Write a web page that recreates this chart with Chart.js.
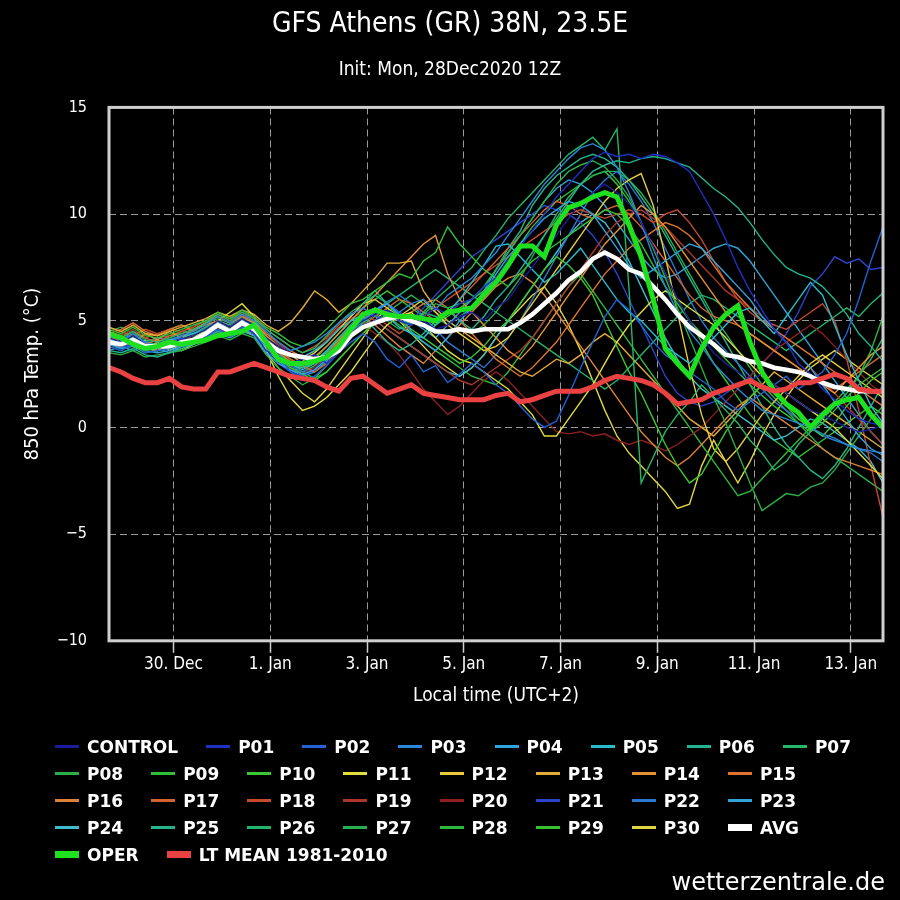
<!DOCTYPE html>
<html>
<head>
<meta charset="utf-8">
<script src="https://cdn.jsdelivr.net/npm/chart.js@4.4.1/dist/chart.umd.min.js"></script>
<style>
    html, body { margin: 0; padding: 0; background: #000; }
    #wrap { position: relative; width: 900px; height: 900px; }
    #legend {
        position: absolute; left: 55px; top: 733px; width: 830px;
        display: flex; flex-wrap: wrap;
        font: bold 17px "DejaVu Sans", sans-serif; color: #fff;
    }
    .item { display: flex; align-items: center; height: 27px; margin-right: 28px; }
    .item .line { display: inline-block; width: 24px; margin-right: 8px; }
    #credit {
        position: absolute; right: 15px; top: 868px;
        font: 24px "DejaVu Sans", sans-serif; color: #fff;
    }
</style>
</head>
<body>
<div id="wrap">
    <canvas id="ensChart" width="900" height="900"></canvas>
    <div id="legend"></div>
    <div id="credit">wetterzentrale.de</div>
</div>
<script>
// 850 hPa temperature, one value every 6 hours from init (0 .. 384 h)
const CONTROL = [4.2,4.0,4.3,3.9,3.7,3.9,4.1,4.3,4.6,5.0,4.7,5.1,4.8, 4.2,3.8,3.5,3.2,3.0,3.4,3.9,4.6, 5.0,5.3,5.5,5.2,4.9,5.0,4.6,4.8,5.2,5.4,5.0,5.6,6.0, 6.8,7.5,8.3,9.0,9.8,10.5,11.0,11.4,11.0,10.5,9.6,8.5,7.2, 6.0,5.0,4.2,3.5,3.0,2.6,2.2,2.5,2.0,1.6,1.2,0.8,0.6,0.3,0.0,-0.2,-0.1,0.1];
const P01 = [4.0,3.8,4.0,3.6,3.9,3.8,4.2,4.0,4.5,4.7,4.6,4.8,4.4, 3.6,3.3,3.0,3.2,3.4,3.0,3.5,4.2, 4.8,5.0,5.4,5.0,4.8,5.2,5.6,5.3,5.8,6.0,6.6,7.0,7.8, 8.5,9.2,10.0,10.8,11.4,12.0,12.6,12.9,12.7,12.8,12.6,12.8,12.7, 12.4,12.0,11.0,10.0,8.8,7.5,6.4,5.5,4.6,4.0,3.0,2.5,1.8,1.3,0.8,0.4,0.2,0.1];
const P02 = [3.8,3.6,3.9,3.5,3.6,3.7,3.9,4.0,4.2,4.6,4.3,4.7,4.5, 3.9,3.4,2.6,2.2,2.4,2.9,3.5,4.0, 4.4,4.0,3.2,2.8,3.4,2.6,2.9,2.1,2.5,3.0,2.6,2.0,1.6, 1.0,0.4,0.0,0.3,1.5,2.8,4.0,5.2,6.0,5.5,4.8,4.0,3.4, 3.0,2.6,2.2,1.8,1.2,0.8,1.2,1.6,2.0,2.4,1.8,2.2,2.6,3.4,4.4,6.0,7.8,9.4];
const P03 = [4.3,4.1,4.4,4.0,3.8,4.0,4.3,4.5,4.8,5.2,4.9,5.3,5.0, 4.5,4.0,3.6,3.8,4.0,4.4,4.9,5.3, 5.6,5.2,5.0,5.4,5.8,6.0,5.5,6.2,6.6,7.0,7.6,8.2,9.0, 9.8,10.6,11.4,12.0,12.6,13.1,13.3,13.0,12.2,11.0,9.6,8.0,6.6, 5.4,4.5,3.8,3.0,2.4,1.8,1.3,0.8,0.6,0.4,0.2,0.0,-0.3,-0.5,-0.8,-1.0,-1.1,-1.2];
const P04 = [3.9,3.7,3.8,3.6,3.5,3.6,3.8,3.9,4.1,4.4,4.2,4.5,4.3, 3.5,3.0,2.7,2.5,2.7,3.2,3.8,4.5, 5.0,5.5,5.8,5.3,4.5,4.0,3.6,4.2,5.0,5.6,6.3,7.2,8.0, 8.6,9.2,9.8,10.2,10.6,10.4,10.0,9.2,8.4,7.6,7.0,7.4,7.8, 8.2,8.6,8.4,7.8,7.2,6.6,6.0,5.2,4.6,4.0,3.4,2.8,2.0,1.2,0.4,-0.4,-1.0,-1.3];
const P05 = [4.1,4.0,4.2,3.8,3.9,4.1,4.2,4.4,4.6,4.9,4.6,5.0,4.7, 4.0,3.7,3.4,3.3,3.6,4.0,4.6,5.0, 5.3,5.6,5.2,4.7,4.4,4.2,4.8,5.4,6.0,6.8,7.6,8.5,8.6, 8.0,7.4,6.8,7.2,7.8,8.4,7.6,6.8,6.0,5.4,5.0,4.4,3.8, 3.4,3.0,3.6,4.2,4.8,5.4,5.6,5.0,4.4,5.2,6.0,6.8,6.2,4.8,3.4,2.2,1.0,0.2];
const P06 = [3.6,3.5,3.7,3.4,3.3,3.5,3.7,3.9,4.2,4.5,4.3,4.6,4.4, 3.8,3.4,3.0,2.8,3.0,3.5,4.2,4.8, 5.2,4.6,4.0,3.6,3.9,4.4,5.0,5.5,5.0,4.6,5.2,6.0,6.6, 7.4,8.2,9.0,9.8,10.6,11.4,12.0,12.3,12.5,12.4,12.6,12.7,12.6, 12.4,12.2,11.7,11.2,10.8,10.3,9.6,8.8,8.1,7.5,7.2,7.0,6.6,6.0,5.3,4.4,3.8,3.1];
const P07 = [4.4,4.2,4.5,4.1,4.0,4.2,4.4,4.6,4.9,5.3,5.0,5.4,5.1, 4.6,4.2,3.8,3.5,3.7,4.3,4.9,5.4, 5.8,6.2,5.8,5.2,4.8,5.4,6.0,6.5,7.0,7.5,8.3,9.0,9.8, 10.4,11.0,11.6,12.2,12.8,13.2,13.6,13.0,14.0,6.5,-2.6,-1.4,-0.2, 0.6,1.2,2.0,1.4,0.8,0.2,-0.6,-1.2,-2.0,-1.6,-0.8,-0.2,0.4,1.0,1.6,2.4,3.2,4.2];
const P08 = [3.5,3.4,3.6,3.3,3.4,3.5,3.6,3.8,4.0,4.3,4.1,4.4,4.2, 3.4,2.8,2.4,2.0,2.3,2.9,3.6,4.3, 4.9,5.3,5.0,4.6,4.9,5.3,5.8,5.6,5.8,6.0,6.6,7.4,8.2, 9.0,9.8,10.6,11.4,12.0,12.3,12.5,12.2,11.6,10.8,9.6,8.4,7.0, 5.6,4.2,2.8,1.4,0.2,-1.2,-2.6,-3.9,-3.5,-3.1,-3.2,-2.8,-2.6,-2.0,-1.2,-0.4,0.4,1.0];
const P09 = [4.6,4.4,4.7,4.3,4.2,4.4,4.6,4.8,5.0,5.4,5.1,5.5,5.2, 4.7,4.4,4.0,3.8,4.1,4.6,5.2,5.8, 6.0,6.4,6.8,7.2,7.0,7.8,8.2,9.4,8.6,8.0,7.4,7.0,6.6, 7.2,7.8,8.2,8.6,9.0,9.4,9.8,10.2,10.0,9.4,8.6,7.6,6.6, 5.8,5.0,4.4,3.8,3.2,2.6,2.0,1.5,1.0,0.6,0.2,-0.2,0.2,0.8,1.4,2.0,2.4,2.8];
const P10 = [4.0,3.9,4.1,3.7,3.8,3.9,4.0,4.2,4.5,4.8,4.5,4.9,4.6, 3.9,3.2,2.8,2.5,2.2,2.6,3.2,3.8, 4.4,4.9,5.3,5.0,4.6,4.2,3.8,3.4,3.0,3.3,3.8,4.5,5.0, 5.8,6.6,7.4,8.0,7.6,7.0,6.2,5.0,3.8,2.6,1.6,0.4,-0.8, -1.8,-2.6,-2.2,-1.2,-0.2,0.6,1.4,2.0,1.6,1.0,0.4,0.0,-0.4,0.2,1.0,1.6,2.2,2.6];
const P11 = [4.5,4.2,3.8,3.6,4.0,3.6,3.9,4.2,4.6,5.0,5.4,5.8,5.2, 3.6,2.4,1.4,0.8,1.0,1.4,2.0,2.6, 3.4,4.2,4.8,5.2,5.4,4.8,4.2,3.6,3.2,3.0,2.6,2.2,1.8, 1.2,0.6,-0.4,-0.4,0.4,1.2,2.0,3.0,4.0,4.8,5.4,6.0,6.4, 6.0,5.6,5.2,4.8,4.2,3.6,3.0,2.4,2.0,1.6,1.2,0.8,0.4,0.0,-0.6,-1.2,-1.8,-2.4];
const P12 = [3.9,3.8,4.0,3.7,3.6,3.8,4.0,4.1,4.4,4.7,4.5,4.8,4.5, 3.8,3.3,2.9,3.1,3.5,4.0,4.6,5.2, 5.8,6.0,5.6,5.2,5.6,6.0,5.4,4.8,4.4,4.0,3.6,3.8,4.2, 5.0,5.8,6.6,7.4,8.2,9.0,9.8,10.6,11.2,11.6,11.9,10.4,8.0, 5.4,2.8,0.6,-1.0,-1.6,-1.0,-0.2,0.6,1.2,1.8,2.4,3.0,3.4,3.0,2.6,2.2,1.8,1.4];
const P13 = [4.7,4.5,4.8,4.4,4.3,4.5,4.7,4.9,5.1,5.4,5.2,5.5,5.3, 4.8,4.5,4.9,5.6,6.4,6.0,5.4,5.8, 6.4,7.0,7.7,7.7,7.8,6.4,5.6,5.0,4.6,4.2,3.8,3.4,3.0, 2.6,2.4,2.8,3.2,3.0,3.4,4.0,4.4,4.0,3.4,2.8,2.2,1.6, 1.0,0.4,0.0,-0.4,0.2,0.8,1.4,2.0,2.6,2.2,1.8,1.4,1.0,0.6,0.2,-0.2,-0.6,-1.0];
const P14 = [4.1,4.3,4.0,4.4,4.1,4.5,4.2,4.6,4.8,5.0,4.7,5.1,4.9, 4.3,3.8,3.4,3.0,3.3,3.8,4.4,5.0, 5.6,6.2,6.8,7.4,8.0,8.6,9.0,7.2,6.0,5.4,4.8,4.2,3.6, 3.2,3.8,4.6,5.4,6.2,7.0,7.8,8.6,9.2,9.8,10.4,10.0,9.4, 8.6,7.8,7.0,6.2,5.4,4.8,4.4,4.0,3.6,3.2,2.8,2.4,2.0,1.6,2.2,2.8,3.4,3.8];
const P15 = [4.4,4.6,4.9,4.5,4.3,4.6,4.8,4.5,4.9,5.2,4.9,5.2,5.0, 4.4,4.0,3.6,3.3,3.0,3.4,4.0,4.6, 5.2,5.6,5.4,5.0,5.4,5.8,6.0,5.6,5.0,4.4,3.8,3.2,2.8, 2.4,2.8,3.4,4.0,4.8,5.6,6.4,7.2,7.8,8.4,8.8,9.2,9.6, 9.4,9.0,8.4,7.6,6.8,6.2,5.6,5.0,4.6,4.2,3.8,3.4,3.0,2.6,2.2,1.8,1.4,1.0];
const P16 = [4.2,4.0,4.2,3.9,4.1,4.0,4.1,4.3,4.5,4.9,4.6,5.0,4.7, 4.0,3.5,3.1,2.8,3.0,3.5,4.1,4.7, 5.2,4.8,4.3,3.8,3.4,3.0,3.6,4.2,4.8,5.4,6.0,6.6,7.0, 7.2,6.8,6.2,5.4,4.6,3.8,3.0,2.2,1.4,0.6,-0.2,-0.8,-1.4, -1.8,-1.4,-0.8,-0.2,0.4,1.0,1.4,1.0,0.6,0.2,-0.2,-0.6,-1.0,-1.4,-1.6,-1.8,-2.0,-2.2];
const P17 = [4.0,4.2,4.5,4.2,4.0,4.3,4.4,4.6,4.9,5.2,4.9,5.3,5.0, 4.2,3.6,3.2,2.9,2.6,3.0,3.6,4.2, 4.8,5.2,5.6,6.0,5.8,5.4,5.0,5.4,6.0,6.6,7.2,7.8,8.4, 9.0,9.6,10.2,10.6,10.4,10.0,9.8,10.2,10.4,10.0,9.4,8.6,7.8, 7.0,6.2,5.6,5.2,5.0,4.8,4.4,4.0,3.6,3.2,2.8,2.4,2.0,1.8,2.2,2.6,3.0,3.4];
const P18 = [4.3,4.5,4.3,4.6,4.4,4.2,4.5,4.7,5.0,5.3,5.1,5.4,5.2, 4.6,4.2,3.8,3.5,3.8,4.2,4.8,5.3, 5.6,5.2,4.8,4.4,4.8,5.2,5.6,6.0,6.4,6.8,7.2,7.6,8.0, 8.4,8.8,9.2,9.6,10.0,10.2,10.0,9.8,10.0,10.2,10.0,9.6,10.0, 10.2,9.6,8.8,7.8,6.8,6.0,5.4,5.0,4.8,4.6,5.0,5.4,5.8,5.0,3.2,0.8,-1.8,-4.2];
const P19 = [4.5,4.3,4.6,4.2,4.4,4.6,4.5,4.7,5.0,5.3,5.0,5.3,5.1, 4.4,3.9,3.5,3.2,3.6,4.1,4.7,5.1, 5.4,5.0,4.6,4.2,3.8,3.4,3.0,2.6,2.2,2.0,2.4,2.8,3.2, 3.6,4.2,5.0,5.8,6.6,7.4,8.2,9.0,9.6,10.0,10.2,9.8,9.4, 8.8,8.2,7.6,7.0,6.4,6.0,5.6,5.2,4.6,4.0,3.4,2.8,2.2,1.6,1.0,0.4,-0.2,-0.8];
const P20 = [3.7,3.9,4.1,3.8,3.7,3.9,4.1,4.2,4.4,4.7,4.4,4.8,4.5, 3.8,3.2,2.8,2.5,2.8,3.4,4.0,4.4, 4.8,4.4,4.0,3.4,2.6,1.8,1.2,0.6,1.0,1.6,2.2,2.6,2.2, 1.6,1.0,0.4,-0.2,-0.3,-0.2,-0.4,-0.3,-0.6,-0.8,-0.6,-0.8,-1.1, -0.8,-0.4,0.0,0.6,1.2,1.8,2.4,3.0,3.6,4.0,4.4,4.8,4.4,3.8,3.2,2.6,2.0,1.6];
const P21 = [3.9,3.7,3.9,3.6,3.7,3.8,3.9,4.1,4.3,4.6,4.4,4.7,4.4, 3.6,3.0,2.6,2.4,2.7,3.2,3.8,4.4, 5.0,5.4,5.8,5.4,5.0,5.6,6.2,6.8,7.4,8.0,8.4,8.8,9.2, 9.6,10.0,10.4,10.2,10.0,9.6,9.0,8.2,7.2,6.0,4.8,3.6,2.4, 1.6,1.2,1.0,1.2,1.6,2.0,2.4,3.0,3.6,4.4,5.4,6.6,7.2,8.0,7.7,7.9,7.4,7.5];
const P22 = [4.1,4.3,4.1,4.0,4.2,4.1,4.3,4.4,4.6,5.0,4.7,5.1,4.8, 4.0,3.4,2.9,2.6,2.8,3.3,3.9,4.5, 5.1,5.5,5.9,6.2,5.8,5.2,4.6,4.0,3.6,3.2,2.8,3.4,4.2, 5.0,6.0,7.0,8.0,9.0,10.0,11.0,11.6,12.0,11.4,10.6,9.6,8.4, 7.2,6.0,5.0,4.2,3.6,3.0,2.4,1.8,1.2,0.8,0.4,0.0,-0.4,-0.6,-0.8,-1.0,-1.2,-1.6];
const P23 = [3.6,3.8,3.6,3.9,3.7,3.5,3.8,4.0,4.3,4.6,4.3,4.7,4.4, 3.7,3.1,2.7,2.4,2.6,3.1,3.7,4.3, 4.9,5.4,5.8,5.4,5.0,4.6,4.2,4.8,5.4,6.0,6.6,7.4,8.2, 9.0,9.8,10.6,11.2,11.6,11.4,11.0,10.4,9.6,8.8,8.0,7.4,7.0, 7.2,7.6,8.0,8.4,8.6,8.4,7.8,7.0,6.2,5.4,4.6,3.8,3.0,2.2,1.4,0.6,-0.2,-0.8];
const P24 = [4.0,3.8,4.0,3.7,3.6,3.8,3.9,4.1,4.4,4.7,4.4,4.8,4.5, 3.9,3.4,3.0,2.7,3.0,3.6,4.2,4.8, 5.4,5.0,4.6,4.2,3.8,3.4,3.0,2.6,2.4,2.8,3.4,4.2,5.0, 5.8,6.6,7.4,8.2,9.0,9.6,10.0,9.6,8.8,7.8,6.6,5.4,4.2, 3.2,2.4,1.8,1.4,1.0,0.6,0.2,-0.2,-0.6,-0.4,0.0,0.4,0.2,-0.2,-0.6,-1.0,-1.6,-2.6];
const P25 = [4.3,4.1,4.3,4.0,3.9,4.1,4.3,4.4,4.7,5.0,4.8,5.2,4.9, 4.3,3.8,3.4,3.2,3.5,4.0,4.6,5.2, 5.8,6.4,5.8,5.2,4.8,5.4,5.2,4.8,5.2,5.6,6.4,7.4,8.4, 9.2,10.4,11.2,11.8,12.2,12.6,12.8,12.6,12.2,11.6,10.8,10.0,9.0, 8.0,7.0,6.0,5.0,4.0,3.0,2.0,1.0,0.0,-0.8,-1.4,-2.0,-2.4,-1.8,-1.0,0.0,1.0,2.0];
const P26 = [3.8,4.0,3.8,3.5,3.6,3.7,3.9,4.0,4.3,4.6,4.3,4.7,4.4, 3.7,3.2,2.8,2.6,2.9,3.4,4.0,4.6, 5.0,5.4,5.8,6.2,6.6,7.0,7.4,7.0,6.6,6.2,5.8,5.4,5.0, 4.6,4.2,3.8,3.4,3.0,2.6,2.2,1.8,2.2,2.8,3.4,4.0,4.6, 5.2,5.8,6.2,6.0,5.6,5.2,4.8,4.4,4.0,3.6,4.0,4.4,4.8,5.2,5.6,5.2,5.8,6.3];
const P27 = [4.5,4.7,4.4,4.2,4.4,4.6,4.8,4.6,4.9,5.1,4.9,5.2,5.0, 4.2,3.6,3.0,2.6,2.3,2.6,3.2,3.8, 4.4,5.0,5.4,5.8,6.2,5.8,5.4,5.0,4.6,4.4,4.8,5.4,6.2, 7.0,8.0,9.0,10.0,10.8,11.4,11.8,12.0,12.0,11.6,11.0,10.2,9.2, 8.2,7.2,6.2,5.2,4.4,3.6,2.8,2.0,1.4,0.8,0.2,-0.4,-1.0,-1.4,-1.8,-2.2,-2.6,-3.0];
const P28 = [3.9,3.7,3.9,3.6,3.8,3.9,4.0,4.2,4.5,4.8,4.6,4.9,4.6, 3.9,3.4,3.0,2.8,3.1,3.6,4.2,4.7, 5.2,5.6,5.2,4.8,4.4,4.0,3.6,3.2,2.8,2.4,2.2,2.0,2.6, 3.4,4.2,5.0,5.8,6.6,7.2,6.4,5.6,4.8,4.0,3.2,2.4,1.6, 0.8,0.0,-0.8,-1.6,-2.4,-3.2,-3.0,-2.4,-1.8,-1.2,-0.6,0.0,0.6,1.2,1.8,2.4,3.6,5.2];
const P29 = [4.2,4.4,4.2,4.0,4.2,4.3,4.5,4.4,4.7,5.0,4.7,5.1,4.8, 4.1,3.6,3.2,2.9,3.2,3.8,4.4,5.0, 5.6,6.0,6.4,6.0,5.6,5.2,4.8,5.2,5.6,6.0,6.4,7.0,7.8, 8.6,9.4,10.0,10.6,11.0,11.4,11.8,12.0,11.4,10.6,9.6,8.4,7.2, 6.0,5.0,4.0,3.0,2.2,1.4,0.6,0.0,-0.6,-1.0,-1.4,-1.0,-0.6,-0.2,0.2,0.6,1.0,0.6];
const P30 = [4.2,4.0,3.8,4.1,3.6,3.8,3.6,3.9,4.2,4.5,4.3,4.6,4.3, 3.5,2.8,2.2,1.6,1.2,1.8,2.6,3.4, 4.2,5.0,5.6,5.0,4.4,3.8,3.2,2.8,2.4,2.8,3.4,4.2,5.0, 5.6,6.2,6.6,5.8,4.8,3.6,2.2,0.8,-0.4,-1.2,-1.8,-2.4,-3.0, -3.8,-3.6,-1.8,-0.6,-1.6,-2.6,-1.6,-0.4,0.6,1.4,2.2,2.8,3.2,3.6,3.2,2.8,2.4,2.0];

const AVG = [4.0,3.9,4.1,3.8,3.8,3.8,4.0,4.1,4.4,4.8,4.5,4.9,4.6, 4.0,3.6,3.4,3.3,3.2,3.3,3.6,4.3, 4.7,4.9,5.1,5.2,5.0,4.8,4.5,4.5,4.6,4.5,4.6,4.6,4.6, 4.9,5.3,5.8,6.3,6.9,7.3,7.9,8.2,7.9,7.4,7.2,6.6,6.0, 5.3,4.7,4.3,3.9,3.4,3.3,3.1,3.0,2.8,2.7,2.6,2.4,2.1,1.9,1.8,1.7,1.7,1.7];
const OPER = [4.4,4.2,3.9,3.7,3.8,4.0,3.9,4.0,4.1,4.3,4.4,4.5,4.8, 4.0,3.2,3.0,3.0,3.1,3.3,3.8,4.6, 5.3,5.5,5.3,5.2,5.2,5.1,5.0,5.4,5.5,5.6,6.2,6.8,7.6, 8.5,8.5,8.0,9.5,10.3,10.5,10.8,11.0,10.8,9.5,8.0,6.0,3.7, 3.0,2.4,3.7,4.7,5.3,5.7,4.0,2.6,1.7,1.1,0.7,0.0,0.6,1.1,1.3,1.4,0.6,0.0];
const LTMEAN = [2.8,2.6,2.3,2.1,2.1,2.3,1.9,1.8,1.8,2.6,2.6,2.8,3.0, 2.8,2.6,2.4,2.3,2.2,1.9,1.7,2.3, 2.4,2.0,1.6,1.8,2.0,1.6,1.5,1.4,1.3,1.3,1.3,1.5,1.6, 1.2,1.3,1.5,1.7,1.7,1.7,1.9,2.2,2.4,2.3,2.2,2.0,1.6, 1.1,1.2,1.3,1.6,1.8,2.0,2.2,1.9,1.7,1.8,2.1,2.1,2.3,2.5,2.3,1.8,1.7,1.7];

const memberNames = ['CONTROL','P01','P02','P03','P04','P05','P06','P07','P08','P09','P10',
    'P11','P12','P13','P14','P15','P16','P17','P18','P19','P20',
    'P21','P22','P23','P24','P25','P26','P27','P28','P29','P30'];
const memberSeries = [CONTROL,P01,P02,P03,P04,P05,P06,P07,P08,P09,P10,
    P11,P12,P13,P14,P15,P16,P17,P18,P19,P20,
    P21,P22,P23,P24,P25,P26,P27,P28,P29,P30];
const memberColors = ['#1c1c9a','#1f30c4','#2262d2','#2a86d8','#2ea4de','#26bccb','#22b592','#24b868',
    '#2aae45','#30bf38','#3cc830','#e2dc3c','#e6cc3a','#e6ac38','#e69234','#de7430',
    '#da823a','#d26432','#c64a2e','#aa362a','#8c2020','#2a44ca','#2c78ce','#30a4d6',
    '#3cbccc','#26b48c','#22b46c','#28ae50','#2eb83e','#36c032','#e0d640'];

// x axis: hours since init; ticks fall on local midnight
const tickHours = [32, 80, 128, 176, 224, 272, 320, 368];
const tickLabels = ['30. Dec', '1. Jan', '3. Jan', '5. Jan', '7. Jan', '9. Jan', '11. Jan', '13. Jan'];
const stepHours = 6;

function toPoints(values) {
    return values.map((v, i) => ({ x: i * stepHours, y: v }));
}

const datasets = memberNames.map((name, i) => ({
    label: name,
    data: toPoints(memberSeries[i]),
    borderColor: memberColors[i],
    borderWidth: 1.4,
    legendWidth: 3,
    order: 4
}));
datasets.push({ label: 'AVG', data: toPoints(AVG), borderColor: '#ffffff', borderWidth: 4.5, legendWidth: 7, order: 3 });
datasets.push({ label: 'OPER', data: toPoints(OPER), borderColor: '#1ee01e', borderWidth: 5, legendWidth: 7, order: 2 });
datasets.push({ label: 'LT MEAN 1981-2010', data: toPoints(LTMEAN), borderColor: '#ea4242', borderWidth: 5, legendWidth: 7, order: 1 });

const framePlugin = {
    id: 'frame',
    afterDraw(chart) {
        const { ctx, chartArea: a } = chart;
        ctx.save();
        ctx.strokeStyle = '#cfcfcf';
        ctx.lineWidth = 3;
        ctx.strokeRect(a.left, a.top, a.right - a.left, a.bottom - a.top);
        ctx.restore();
    }
};

const condensed = 'DejaVu Sans Condensed, DejaVu Sans, sans-serif';

const ctx = document.getElementById('ensChart').getContext('2d');
const chart = new Chart(ctx, {
    type: 'line',
    data: { datasets: datasets },
    options: {
        responsive: false,
        animation: false,
        events: [],
        elements: { point: { radius: 0 }, line: { tension: 0 } },
        layout: { padding: { top: 0, left: 17, right: 17, bottom: 191 } },
        plugins: {
            legend: { display: false },
            tooltip: { enabled: false },
            title: {
                display: true,
                text: 'GFS Athens (GR) 38N, 23.5E',
                color: '#ffffff',
                font: { family: condensed, size: 28, weight: 'normal' },
                padding: { top: 8, bottom: 17 }
            },
            subtitle: {
                display: true,
                text: 'Init: Mon, 28Dec2020 12Z',
                color: '#ffffff',
                font: { family: condensed, size: 19, weight: 'normal' },
                padding: { top: 0, bottom: 26 }
            }
        },
        scales: {
            x: {
                type: 'linear',
                min: 0,
                max: 384,
                afterBuildTicks: (scale) => {
                    scale.ticks = tickHours.map(h => ({ value: h }));
                },
                ticks: {
                    color: '#ffffff',
                    font: { family: condensed, size: 17 },
                    padding: 2,
                    maxRotation: 0,
                    autoSkip: false,
                    callback: (value) => tickLabels[tickHours.indexOf(value)]
                },
                grid: {
                    color: '#9a9a9a',
                    lineWidth: 1,
                    drawTicks: true,
                    tickLength: 12,
                    tickColor: '#cfcfcf',
                    tickWidth: 1.5
                },
                border: { display: false, dash: [7, 4] },
                title: {
                    display: true,
                    text: 'Local time (UTC+2)',
                    color: '#ffffff',
                    font: { family: condensed, size: 19 },
                    padding: { top: 7, bottom: 2 }
                }
            },
            y: {
                min: -10,
                max: 15,
                afterFit: (scale) => { scale.width = 92; },
                ticks: {
                    stepSize: 5,
                    color: '#ffffff',
                    font: { family: condensed, size: 16 },
                    padding: 22,
                    callback: (v) => String(v).replace('-', '\u2212')
                },
                grid: { color: '#9a9a9a', lineWidth: 1, drawTicks: false },
                border: { display: false, dash: [7, 4] },
                title: {
                    display: true,
                    text: '850 hPa Temp. (°C)',
                    color: '#ffffff',
                    font: { family: condensed, size: 20 },
                    padding: { top: 4, bottom: 0 }
                }
            }
        }
    },
    plugins: [framePlugin]
});

// legend below the chart, built from the datasets in their natural order
const legendBox = document.getElementById('legend');
chart.data.datasets.forEach((ds) => {
    const item = document.createElement('div');
    item.className = 'item';
    const line = document.createElement('span');
    line.className = 'line';
    line.style.height = ds.legendWidth + 'px';
    line.style.background = ds.borderColor;
    const text = document.createElement('span');
    text.textContent = ds.label;
    item.appendChild(line);
    item.appendChild(text);
    legendBox.appendChild(item);
});
</script>
</body>
</html>
